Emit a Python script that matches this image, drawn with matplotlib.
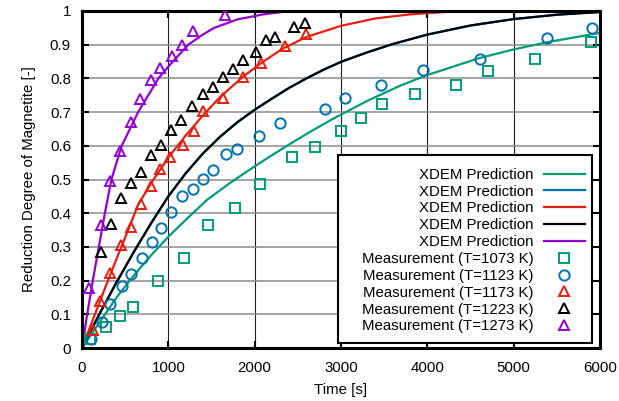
import matplotlib
matplotlib.use("Agg")
import matplotlib.pyplot as plt
from matplotlib.patches import Rectangle

plt.rcParams['font.family'] = ['Liberation Sans', 'DejaVu Sans']

# ---- prediction curves ----
t_1073 = [0, 200, 400, 600, 800, 1000, 1200, 1450, 1700, 1900, 2150, 2450, 2700, 2900, 3300, 3700, 4000, 4600, 5000, 5400, 6000]
p_1073 = [0, 0.075, 0.15, 0.215, 0.275, 0.33, 0.38, 0.44, 0.487, 0.522, 0.564, 0.612, 0.65, 0.679, 0.733, 0.78, 0.81, 0.86, 0.886, 0.908, 0.935]

t_1223 = [0, 200, 400, 600, 800, 1000, 1200, 1400, 1600, 1800, 2000, 2200, 2400, 2600, 2800, 3000, 3300, 3600, 4000, 4500, 5000, 5500, 6000]
p_1223 = [0, 0.1, 0.195, 0.285, 0.37, 0.45, 0.518, 0.577, 0.627, 0.67, 0.707, 0.74, 0.772, 0.8, 0.826, 0.849, 0.877, 0.902, 0.93, 0.957, 0.976, 0.989, 0.997]

# blue prediction lies under the black one in the picture
t_1123 = t_1223
p_1123 = p_1223

t_1173 = [0, 150, 300, 440, 550, 650, 820, 1020, 1200, 1400, 1600, 1870, 2100, 2330, 2600, 3000, 3400, 3800, 4200, 4600, 6000]
p_1173 = [0, 0.1, 0.2, 0.29, 0.36, 0.425, 0.497, 0.572, 0.63, 0.69, 0.745, 0.806, 0.85, 0.889, 0.923, 0.956, 0.978, 0.99, 0.997, 1.0, 1.0]

t_1273 = [0, 60, 125, 195, 265, 340, 460, 650, 885, 1000, 1230, 1400, 1530, 1800, 2100, 2400, 3000, 6000]
p_1273 = [0, 0.1, 0.2, 0.3, 0.4, 0.5, 0.6, 0.7, 0.8, 0.835, 0.9, 0.93, 0.95, 0.975, 0.99, 1.0, 1.0, 1.0]

# ---- measurements ----
m_t_1073 = [95, 280, 440, 585, 880, 1180, 1465, 1775, 2060, 2430, 2700, 3000, 3230, 3480, 3860, 4330, 4700, 5245, 5895]
m_y_1073 = [0.028, 0.062, 0.096, 0.123, 0.198, 0.267, 0.364, 0.414, 0.486, 0.566, 0.596, 0.644, 0.683, 0.724, 0.753, 0.78, 0.822, 0.858, 0.909]

m_t_1123 = [100, 230, 330, 460, 570, 690, 810, 920, 1030, 1160, 1280, 1400, 1520, 1670, 1795, 2050, 2295, 2820, 3050, 3465, 3950, 4605, 5390, 5905]
m_y_1123 = [0.027, 0.077, 0.131, 0.185, 0.221, 0.267, 0.315, 0.357, 0.403, 0.45, 0.472, 0.501, 0.527, 0.575, 0.59, 0.628, 0.668, 0.709, 0.741, 0.78, 0.825, 0.858, 0.919, 0.949]

m_t_1173 = [124, 208, 324, 450, 562, 686, 805, 905, 1015, 1175, 1295, 1406, 1638, 1866, 2077, 2353, 2591]
m_y_1173 = [0.052, 0.14, 0.222, 0.307, 0.36, 0.426, 0.48, 0.53, 0.568, 0.603, 0.644, 0.703, 0.742, 0.803, 0.846, 0.897, 0.932]

m_t_1223 = [218, 335, 456, 568, 683, 797, 917, 1035, 1150, 1270, 1403, 1514, 1631, 1745, 1862, 2010, 2131, 2238, 2455, 2585]
m_y_1223 = [0.284, 0.369, 0.446, 0.489, 0.522, 0.573, 0.602, 0.648, 0.677, 0.717, 0.753, 0.775, 0.805, 0.828, 0.855, 0.879, 0.913, 0.922, 0.952, 0.964]

m_t_1273 = [78, 217, 328, 442, 567, 676, 797, 905, 1038, 1155, 1288, 1651]
m_y_1273 = [0.178, 0.365, 0.497, 0.585, 0.67, 0.74, 0.794, 0.83, 0.865, 0.9, 0.941, 0.988]

pred_label = "XDEM Prediction"
meas_labels = ["Measurement (T=1073 K)", "Measurement (T=1123 K)", "Measurement (T=1173 K)",
               "Measurement (T=1223 K)", "Measurement (T=1273 K)"]
x_ticks = [0, 1000, 2000, 3000, 4000, 5000, 6000]
y_ticks = [0, 0.1, 0.2, 0.3, 0.4, 0.5, 0.6, 0.7, 0.8, 0.9, 1.0]
y_tick_labels = ["0", "0.1", "0.2", "0.3", "0.4", "0.5", "0.6", "0.7", "0.8", "0.9", "1"]

colors = ["#009e73", "#0072b2", "#e51e10", "#000000", "#9400d3"]
markers = ["s", "o", "^", "^", "^"]

fs = 10.8
fig = plt.figure(figsize=(6.19, 4.01), dpi=100)
ax = fig.add_axes([82 / 619, 1 - 348 / 401, 518 / 619, 337 / 401])

for x in x_ticks[1:-1]:
    ax.axvline(x, color="#202020", lw=0.8, zorder=0)
for y in y_ticks[1:-1]:
    ax.axhline(y, color="#8c8c8c", lw=1.1, zorder=0)

pred_t = [t_1073, t_1123, t_1173, t_1223, t_1273]
pred_y = [p_1073, p_1123, p_1173, p_1223, p_1273]
meas_t = [m_t_1073, m_t_1123, m_t_1173, m_t_1223, m_t_1273]
meas_y = [m_y_1073, m_y_1123, m_y_1173, m_y_1223, m_y_1273]

handles = []
for i in range(5):
    ln, = ax.plot(pred_t[i], pred_y[i], color=colors[i], lw=1.6, zorder=2,
                  label=pred_label, solid_joinstyle="round")
    handles.append(ln)
for i in range(5):
    mk, = ax.plot(meas_t[i], meas_y[i], linestyle="none", marker=markers[i], ms=7.4,
                  mfc="none", mec=colors[i], mew=1.4, zorder=3, label=meas_labels[i])
    handles.append(mk)

ax.set_xlim(0, 6000)
ax.set_ylim(0, 1)
ax.set_xticks(x_ticks)
ax.set_yticks(y_ticks)
ax.set_yticklabels(y_tick_labels)
ax.tick_params(direction="in", length=5, width=1.5, top=True, right=True,
               labelsize=fs, colors="black")
ax.tick_params(axis="x", pad=9)
ax.tick_params(axis="y", pad=8)
for s in ax.spines.values():
    s.set_linewidth(2.2)

ax.set_xlabel("Time [s]", fontsize=fs, labelpad=6)
ax.set_ylabel("Reduction Degree of Magnetite [-]", fontsize=fs, labelpad=10)

# legend box (frame drawn separately, as in the reference)
box = Rectangle((0.4942, 0.0148), 0.4904, 0.5579, transform=ax.transAxes,
                facecolor="white", edgecolor="black", lw=1.5, zorder=4)
ax.add_patch(box)

leg = ax.legend(handles=handles, loc="lower right", bbox_to_anchor=(0.985, 0.021),
                borderaxespad=0, markerfirst=False, fontsize=fs, frameon=False,
                handlelength=2.7, handletextpad=0.7, labelspacing=0.19,
                borderpad=0.5, numpoints=1)
leg.set_zorder(5)

fig.savefig("out.png", dpi=100)
